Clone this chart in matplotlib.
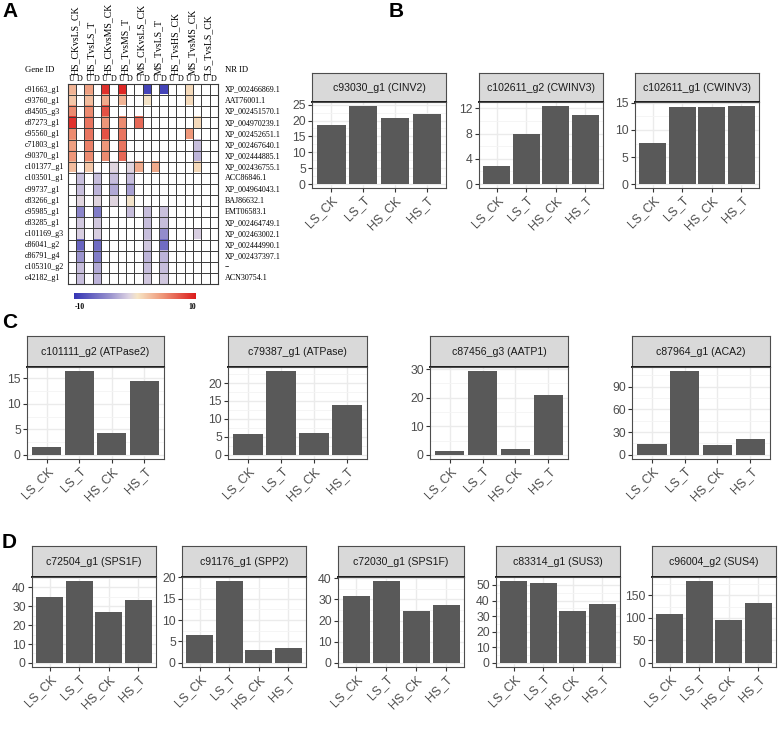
import numpy as np
import matplotlib
matplotlib.use("Agg")
import matplotlib.pyplot as plt
from matplotlib import font_manager
from matplotlib.colors import LinearSegmentedColormap
from matplotlib.transforms import blended_transform_factory

W, H = 778, 731

# ---- bar chart data ----
groups = ["LS_CK", "LS_T", "HS_CK", "HS_T"]

b_titles = ["c93030_g1 (CINV2)", "c102611_g2 (CWINV3)", "c102611_g1 (CWINV3)"]
b_values = [[18.7, 24.6, 20.9, 21.9],
            [2.8, 7.9, 12.4, 11.0],
            [7.6, 14.2, 14.2, 14.45]]
b_ticks = [[0, 5, 10, 15, 20, 25], [0, 4, 8, 12], [0, 5, 10, 15]]

c_titles = ["c101111_g2 (ATPase2)", "c79387_g1 (ATPase)", "c87456_g3 (AATP1)", "c87964_g1 (ACA2)"]
c_values = [[1.6, 16.4, 4.2, 14.5],
            [5.9, 23.3, 6.1, 13.9],
            [1.4, 29.3, 2.0, 20.8],
            [13.7, 110.4, 13.3, 20.4]]
c_ticks = [[0, 5, 10, 15], [0, 5, 10, 15, 20], [0, 10, 20, 30], [0, 30, 60, 90]]

d_titles = ["c72504_g1 (SPS1F)", "c91176_g1 (SPP2)", "c72030_g1 (SPS1F)",
            "c83314_g1 (SUS3)", "c96004_g2 (SUS4)"]
d_values = [[34.8, 43.3, 27.1, 33.5],
            [6.5, 19.1, 3.0, 3.5],
            [31.6, 38.6, 24.6, 27.5],
            [52.5, 51.3, 33.1, 37.5],
            [107.5, 181.4, 95.8, 132.4]]
d_ticks = [[0, 10, 20, 30, 40], [0, 5, 10, 15, 20], [0, 10, 20, 30, 40],
           [0, 10, 20, 30, 40, 50], [0, 50, 100, 150]]

# ---- heatmap data ----
comparisons = ["HS_CKvsLS_CK", "HS_TvsLS_T", "HS_CKvsMS_CK", "HS_TvsMS_T", "MS_CKvsLS_CK",
               "MS_TvsLS_T", "HS_TvsHS_CK", "MS_TvsMS_CK", "LS_TvsLS_CK"]
gene_ids = ["c91663_g1", "c93760_g1", "c84505_g3", "c87273_g1", "c95560_g1", "c71803_g1",
            "c90370_g1", "c101377_g1", "c103501_g1", "c99737_g1", "c83266_g1", "c95985_g1",
            "c83285_g1", "c101169_g3", "c86041_g2", "c86791_g4", "c105310_g2", "c42182_g1"]
nr_ids = ["XP_002466869.1", "AAT76001.1", "XP_002451570.1", "XP_004970239.1", "XP_002452651.1",
          "XP_002467640.1", "XP_002444885.1", "XP_002436755.1", "ACC86846.1", "XP_004964043.1",
          "BAJ86632.1", "EMT06583.1", "XP_002464749.1", "XP_002463002.1", "XP_002444990.1",
          "XP_002437397.1", "--", "ACN30754.1"]
# column index (U/D per comparison) -> log2 fold change
heat_cells = [
    {0: 3, 2: 4, 4: 9, 6: 9.5, 9: -9, 11: -9, 14: 1},
    {0: 2, 2: 2.5, 4: 3.5, 6: 3, 9: 0.3, 14: 1},
    {0: 5, 2: 5, 4: 7.5},
    {0: 9, 2: 6, 4: 4.5, 6: 5, 8: 6.5, 15: 1},
    {0: 5, 2: 6, 4: 7.5, 6: 6, 14: 4.5},
    {0: 4, 2: 5.5, 4: 4.5, 6: 6, 15: -2},
    {0: 4.5, 2: 5, 4: 5, 6: 6.5, 15: -2.5},
    {0: 2.5, 2: 2, 5: -0.8, 7: -0.8, 8: 3.5, 10: 3.5, 15: 1},
    {1: -2, 3: -2, 5: -2, 7: -2},
    {1: -2, 3: -2.5, 5: -3, 7: -3.5},
    {1: -0.8, 3: -0.8, 5: -0.8, 7: 0.2},
    {1: -5, 3: -5.5, 7: -2, 9: -2, 11: -1.8},
    {1: -1.5, 3: -1.5, 9: -2, 11: -2},
    {1: -1.2, 3: -1.2, 9: -2, 11: -4.5, 15: -1.2},
    {1: -7, 3: -6.5, 9: -1.5, 11: -6.5},
    {1: -4, 3: -5.5, 9: -2.5, 11: -2.5},
    {1: -2, 3: -3, 9: -2, 11: -2},
    {1: -2, 3: -2.5, 9: -1.5, 11: -1.5},
]

names = {f.name for f in font_manager.fontManager.ttflist}
if "Liberation Sans Narrow" in names:
    SANS, FS_STRIP, FS_TICK = "Liberation Sans Narrow", 9.5, 10
else:
    SANS, FS_STRIP, FS_TICK = "Liberation Sans", 7.6, 8.8
SERIF = "Liberation Serif"


def px_axes(fig, x0, y0, x1, y1):
    return fig.add_axes([x0 / W, 1 - y1 / H, (x1 - x0) / W, (y1 - y0) / H])


def facet(fig, box, title, values, ticks):
    x0, x1, ys0, ys1, yp1 = box
    st = px_axes(fig, x0, ys0, x1, ys1)
    st.set_facecolor("#d9d9d9")
    st.set_xticks([])
    st.set_yticks([])
    for s in st.spines.values():
        s.set_color("#4d4d4d")
        s.set_linewidth(0.8)
    st.spines["bottom"].set_color("#1a1a1a")
    st.spines["bottom"].set_linewidth(1.4)
    st.text(0.5, 0.48, title, ha="center", va="center", fontsize=FS_STRIP,
            family=SANS, color="#1a1a1a", transform=st.transAxes)

    ax = px_axes(fig, x0, ys1, x1, yp1)
    xs = np.arange(1, len(values) + 1)
    ax.bar(xs, values, width=0.9, color="#595959", zorder=3)
    top = max(values)
    lo, hi = -0.05 * top, 1.05 * top
    ax.set_ylim(lo, hi)
    ax.set_xlim(0.4, len(values) + 0.6)
    step = ticks[1] - ticks[0]
    minor = np.arange(ticks[0] - step / 2, hi, step)
    ax.set_yticks(ticks)
    ax.set_yticks(minor[(minor > lo) & (minor < hi)], minor=True)
    ax.set_xticks(xs)
    ax.set_xticklabels(groups, rotation=45, ha="right", va="top",
                       rotation_mode="anchor", family=SANS)
    for lab in ax.get_yticklabels():
        lab.set_family(SANS)
    ax.grid(which="major", color="#ebebeb", lw=1.0, zorder=0)
    ax.grid(which="minor", axis="y", color="#f4f4f4", lw=0.6, zorder=0)
    ax.tick_params(which="minor", length=0)
    ax.tick_params(which="major", length=3, width=0.8, color="#333333",
                   labelcolor="#4d4d4d", labelsize=FS_TICK, pad=1.5)
    ax.set_axisbelow(True)
    for s in ax.spines.values():
        s.set_color("#4d4d4d")
        s.set_linewidth(0.8)
    return ax


fig = plt.figure(figsize=(W / 100, H / 100), dpi=100)

# ---- panel A: heatmap ----
cmap = LinearSegmentedColormap.from_list(
    "fc", [(0.0, "#3535b5"), (0.3, "#9c95cf"), (0.45, "#ddd3e3"), (0.52, "#f7e6c6"),
           (0.72, "#ef9a7c"), (1.0, "#dc1c1c")])
cmap.set_bad("white")
data = np.full((len(gene_ids), 2 * len(comparisons)), np.nan)
for r, cells in enumerate(heat_cells):
    for c, v in cells.items():
        data[r, c] = v

nrow, ncol = data.shape
hm = px_axes(fig, 67.5, 84, 218, 284)
hm.imshow(data, cmap=cmap, vmin=-10, vmax=10, aspect="auto", interpolation="nearest",
          extent=(0, ncol, nrow, 0))
for i in range(ncol + 1):
    hm.axvline(i, color="#3a3a3a", lw=0.7)
for j in range(nrow + 1):
    hm.axhline(j, color="#3a3a3a", lw=0.7)
hm.set_xlim(0, ncol)
hm.set_ylim(nrow, 0)
hm.set_xticks([])
hm.set_yticks([])
for s in hm.spines.values():
    s.set_color("#3a3a3a")
    s.set_linewidth(0.8)

tr = blended_transform_factory(fig.transFigure, hm.transData)
for r, (g, nr) in enumerate(zip(gene_ids, nr_ids)):
    hm.text(25 / W, r + 0.5, g, transform=tr, ha="left", va="center",
            fontsize=5.8, family=SERIF, clip_on=False)
    hm.text(225 / W, r + 0.5, nr, transform=tr, ha="left", va="center",
            fontsize=5.8, family=SERIF, clip_on=False)
hm.text(25 / W, -1.3, "Gene ID", transform=tr, ha="left", va="center",
        fontsize=6.2, family=SERIF, clip_on=False)
hm.text(225 / W, -1.3, "NR ID", transform=tr, ha="left", va="center",
        fontsize=6.2, family=SERIF, clip_on=False)
for c in range(ncol):
    hm.text(c + 0.5, -0.1, "UD"[c % 2], ha="center", va="bottom", fontsize=5.8,
            family=SERIF, clip_on=False)
for i, name in enumerate(comparisons):
    hm.text(2 * i + 0.9, -0.85, name, rotation=90, ha="center", va="bottom",
            fontsize=7, family=SERIF, clip_on=False)

cb = px_axes(fig, 74, 293, 196, 299)
cb.imshow(np.linspace(-10, 10, 256)[None, :], cmap=cmap, aspect="auto",
          extent=(-10, 10, 0, 1))
cb.set_xticks([])
cb.set_yticks([])
for s in cb.spines.values():
    s.set_visible(False)
cb.text(-9, -0.6, "-10", ha="center", va="top", fontsize=5.5, family=SERIF,
        fontweight="bold", clip_on=False)
cb.text(9.4, -0.6, "10", ha="center", va="top", fontsize=5.5, family=SERIF,
        fontweight="bold", clip_on=False)

# ---- panels B, C, D ----
b_boxes = [(312, 446, 73, 102, 188), (479, 603, 73, 102, 188), (635, 759, 73, 102, 188)]
c_boxes = [(27, 164, 336, 367, 459), (228, 367, 336, 367, 459),
           (430, 568, 336, 367, 459), (632, 770, 336, 367, 459)]
d_boxes = [(32, 156, 546, 577, 667), (182, 306, 546, 577, 667), (338, 464, 546, 577, 667),
           (496, 620, 546, 577, 667), (652, 776, 546, 577, 667)]

for box, t, v, tk in zip(b_boxes, b_titles, b_values, b_ticks):
    facet(fig, box, t, v, tk)
for box, t, v, tk in zip(c_boxes, c_titles, c_values, c_ticks):
    facet(fig, box, t, v, tk)
for box, t, v, tk in zip(d_boxes, d_titles, d_values, d_ticks):
    facet(fig, box, t, v, tk)

for letter, (x, y) in zip("ABCD", [(2, 2), (389, 2), (2, 313), (2, 533)]):
    fig.text(x / W, 1 - y / H, letter, ha="left", va="top", fontsize=15,
             fontweight="bold", family="Liberation Sans")

fig.savefig("out.png", dpi=100)
